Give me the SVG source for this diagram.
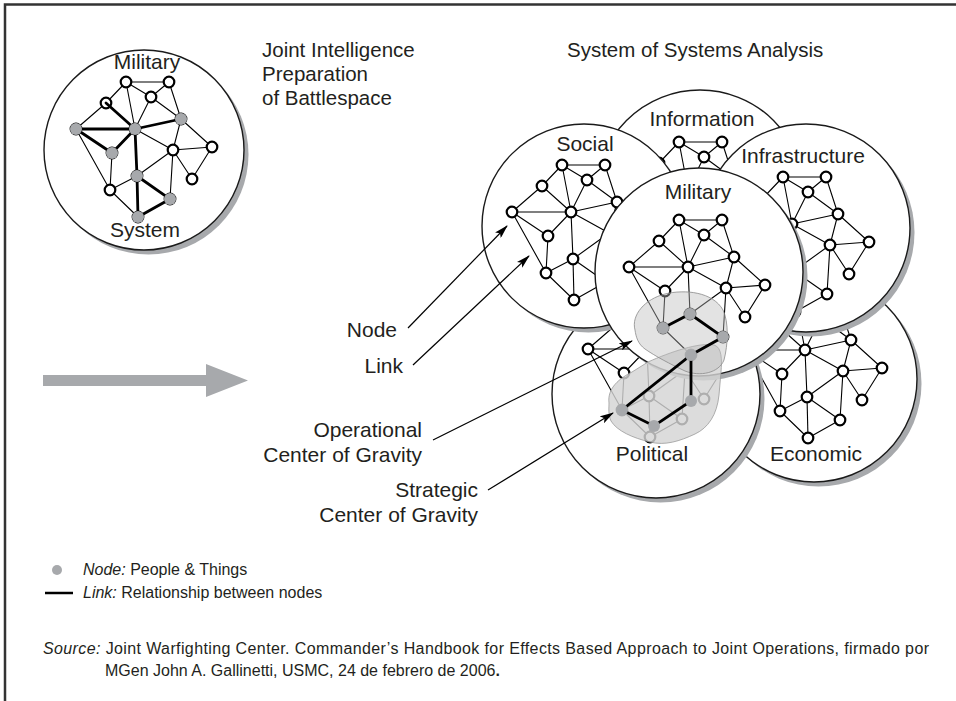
<svg xmlns="http://www.w3.org/2000/svg" xmlns:xlink="http://www.w3.org/1999/xlink" width="956" height="701" viewBox="0 0 956 701">
<style>
.c{fill:#fff;stroke:#1a1a1a;stroke-width:1.4}
.s{fill:#a7a9ac}
.e{stroke:#000;stroke-width:1.1;fill:none}
.t{stroke:#000;stroke-width:2.8;fill:none;stroke-linecap:round}
.n{fill:#fff;stroke:#000;stroke-width:2.2}
.g{fill:#a7a9ac}
.lb{font-family:"Liberation Sans",Arial,Helvetica,sans-serif;font-size:21px;fill:#231f20}
.hd{font-family:"Liberation Sans",Arial,Helvetica,sans-serif;font-size:20.5px;fill:#231f20}
.sm{font-family:"Liberation Sans",Arial,Helvetica,sans-serif;font-size:16px;fill:#231f20}
.ld{stroke:#000;stroke-width:1.2;fill:none}
</style>
<defs>
<marker id="ah" markerWidth="14" markerHeight="8" refX="13" refY="4" orient="auto" markerUnits="userSpaceOnUse"><path d="M0,0 L14,4 L0,8 L3,4 Z" fill="#000"/></marker>
<g id="netE" class="e"><path d="M126,82L169,82 M126,82L151,97 M151,97L169,82 M126,82L106,103 M126,82L135,129 M106,103L135,129 M151,97L135,129 M151,97L181,119 M169,82L181,119 M76,129L106,103 M76,129L135,129 M76,129L112,153 M112,153L135,129 M135,129L181,119 M135,129L173,150 M181,119L173,150 M181,119L212,147 M173,150L212,147 M173,150L192,179 M212,147L192,179 M76,129L110,190 M112,153L110,190 M110,190L137,176 M135,129L137,176 M137,176L173,150 M137,176L170,199 M173,150L170,199 M110,190L138,217 M170,199L138,217"/></g>
<path id="netOQ" class="e" d="M137,176L138,217"/>
<g id="netN" class="n"><circle cx="126" cy="82" r="5.3"/><circle cx="169" cy="82" r="5.3"/><circle cx="151" cy="97" r="5.3"/><circle cx="106" cy="103" r="5.3"/><circle cx="181" cy="119" r="5.3"/><circle cx="76" cy="129" r="5.3"/><circle cx="135" cy="129" r="5.3"/><circle cx="112" cy="153" r="5.3"/><circle cx="137" cy="176" r="5.3"/><circle cx="110" cy="190" r="5.3"/><circle cx="138" cy="217" r="5.3"/><circle cx="173" cy="150" r="5.3"/><circle cx="212" cy="147" r="5.3"/><circle cx="192" cy="179" r="5.3"/><circle cx="170" cy="199" r="5.3"/></g>
<g id="net"><use xlink:href="#netE"/><use xlink:href="#netOQ"/><use xlink:href="#netN"/></g>
</defs>
<rect width="956" height="701" fill="#fff"/>
<path d="M5,701 V4.5 H956" fill="none" stroke="#333" stroke-width="2.5"/>

<g id="system-small">
<circle class="s" cx="148.5" cy="154.5" r="100"/>
<circle class="c" cx="144" cy="150" r="100"/>
<use xlink:href="#net"/>
<path class="t" d="M106,103L135,129 M76,129L135,129 M76,129L112,153 M112,153L135,129 M135,129L181,119 M135,129L137,176 L138,217 M137,176L170,199 L138,217"/>
<g class="g"><circle cx="76" cy="129" r="6"/><circle cx="135" cy="129" r="6"/><circle cx="181" cy="119" r="6"/><circle cx="112" cy="153" r="6"/><circle cx="137" cy="176" r="6"/><circle cx="170" cy="199" r="6"/><circle cx="138" cy="217" r="6"/></g>
<text class="lb" x="147" y="69" text-anchor="middle">Military</text>
<text class="lb" x="145" y="237" text-anchor="middle">System</text>
</g>

<g id="big-arrow"><path d="M43,375 H206 V364 L248,380.5 L206,397 V386 H43 Z" fill="#a7a9ac"/></g>

<g id="information">
<circle class="s" cx="704.5" cy="198.5" r="104"/>
<circle class="c" cx="700" cy="194" r="104"/>
<use xlink:href="#net" x="553" y="60"/>
<text class="lb" x="702" y="126" text-anchor="middle">Information</text>
</g>

<g id="economic">
<circle class="s" cx="818.5" cy="383.5" r="103"/>
<circle class="c" cx="814" cy="379" r="103"/>
<use xlink:href="#net" x="670" y="221"/>
<text class="lb" x="816" y="461" text-anchor="middle">Economic</text>
</g>

<g id="infrastructure">
<circle class="s" cx="810.5" cy="232.5" r="104"/>
<circle class="c" cx="806" cy="228" r="104"/>
<use xlink:href="#net" x="657" y="95"/>
<text class="lb" x="803" y="163" text-anchor="middle">Infrastructure</text>
</g>

<g id="political">
<circle class="s" cx="660.5" cy="398.5" r="104"/>
<circle class="c" cx="656" cy="394" r="104"/>
<use xlink:href="#net" x="512" y="220"/>
<text class="lb" x="652" y="461" text-anchor="middle">Political</text>
</g>

<g id="social">
<circle class="s" cx="588.5" cy="230.5" r="102"/>
<circle class="c" cx="584" cy="226" r="102"/>
<use xlink:href="#net" x="436" y="83"/>
<text class="lb" x="585" y="151" text-anchor="middle">Social</text>
</g>

<g id="military">
<circle class="s" cx="703.5" cy="276.5" r="104"/>
<circle class="c" cx="699" cy="272" r="104"/>
<use xlink:href="#netE" x="553" y="138"/>
<use xlink:href="#netN" x="553" y="138"/>
<text class="lb" x="698" y="199" text-anchor="middle">Military</text>
</g>

<g id="centers-of-gravity">
<path d="M609,403 C607,388 620,378 632,372 L648,362 C670,352 700,342 714,345 C722,347 722,360 721,372 L719,395 C717,415 708,428 695,434 C680,441 665,446 650,442 C633,438 617,431 611,421 C608,414 609,408 609,403 Z" fill="#d4d4d4" fill-opacity="0.82" stroke="#9a9a9a" stroke-width="0.8"/>
<path d="M635,330 C631,315 645,299 665,294 C685,289 713,292 723,310 C729,322 728,345 724,360 C719,373 700,377 685,371 C670,364 655,356 645,349 C638,344 636,337 635,330 Z" fill="#bdbdbd" fill-opacity="0.42" stroke="#8a8a8a" stroke-width="0.8"/>
<path class="t" d="M663,328 L690,314 L723,337 L691,355 L622,410 L654,426 L691,401 L691,355"/>
<g class="g"><circle cx="663" cy="328" r="6"/><circle cx="690" cy="314" r="6"/><circle cx="723" cy="337" r="6"/><circle cx="691" cy="355" r="6"/><circle cx="622" cy="410" r="6"/><circle cx="654" cy="426" r="6"/><circle cx="691" cy="401" r="6"/></g>
</g>

<g id="connectors">
<path class="ld" d="M408,328 L507,226" marker-end="url(#ah)"/>
<path class="ld" d="M413,365 L529,256" marker-end="url(#ah)"/>
<path class="ld" d="M433,440 L632,341" marker-end="url(#ah)"/>
<path class="ld" d="M488,490 L613,413" marker-end="url(#ah)"/>
</g>

<g id="labels">
<text class="hd" x="262" y="57">Joint Intelligence</text>
<text class="hd" x="262" y="81">Preparation</text>
<text class="hd" x="262" y="105">of Battlespace</text>
<text class="hd" x="567" y="57">System of Systems Analysis</text>
<text class="lb" x="397" y="337" text-anchor="end">Node</text>
<text class="lb" x="403" y="373" text-anchor="end">Link</text>
<text class="lb" x="422" y="437" text-anchor="end">Operational</text>
<text class="lb" x="422" y="462" text-anchor="end">Center of Gravity</text>
<text class="lb" x="478" y="497" text-anchor="end">Strategic</text>
<text class="lb" x="478" y="522" text-anchor="end">Center of Gravity</text>
</g>

<g id="legend">
<circle cx="57" cy="570" r="5" fill="#a7a9ac"/>
<text class="sm" x="83" y="575"><tspan font-style="italic">Node:</tspan> People &amp; Things</text>
<line x1="45" y1="593" x2="73" y2="593" stroke="#000" stroke-width="2.5"/>
<text class="sm" x="83" y="598"><tspan font-style="italic">Link:</tspan> Relationship between nodes</text>
<text class="sm" x="43" y="654" textLength="886" lengthAdjust="spacing" font-size="16.5px"><tspan font-style="italic">Source:</tspan> Joint Warfighting Center. Commander’s Handbook for Effects Based Approach to Joint Operations, firmado por</text>
<text class="sm" x="105" y="676" font-size="16.5px">MGen John A. Gallinetti, USMC, 24 de febrero de 2006<tspan font-weight="bold">.</tspan></text>
</g>
</svg>
